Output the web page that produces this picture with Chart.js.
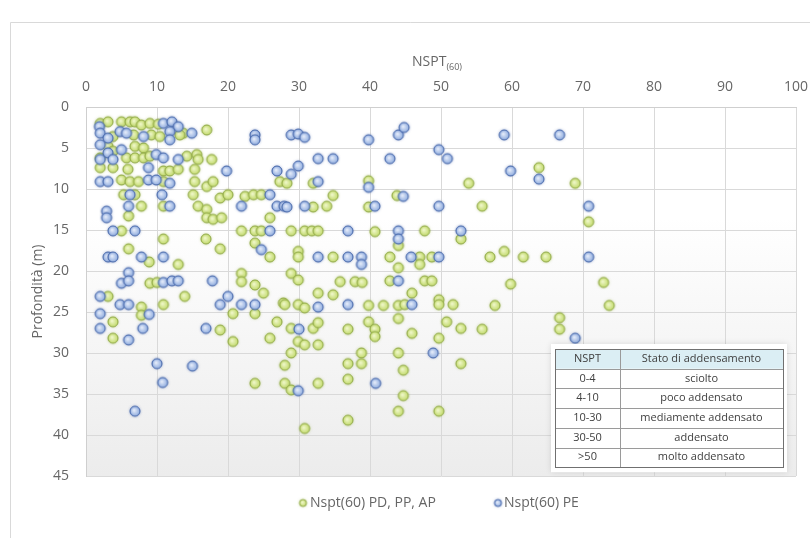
<!DOCTYPE html>
<html>
<head>
<meta charset="utf-8">
<script src="https://cdn.jsdelivr.net/npm/chart.js@4.4.1/dist/chart.umd.min.js"></script>
<style>
  html, body { margin: 0; padding: 0; background: #fff; }
  #wrap { width: 810px; height: 538px; }
</style>
</head>
<body>
<div id="wrap"><canvas id="chart" width="810" height="538"></canvas></div>
<script>
// --- DATA ---
// Nspt(60) PD, PP, AP
const pdX = [2, 3.1, 5, 6.2, 6.9, 7.8, 9, 10.2, 13.7, 17,
  3.8, 6.7, 9.2, 10.4, 13.2, 3.1, 3.8, 6.9, 8.1, 2,
  5.7, 6.9, 8.1, 9, 14.2, 15.6, 15.8, 17.7, 2, 3.8,
  5.9, 10.9, 11.8, 13, 15.3, 27.3, 5, 6.2, 7.4, 10.9,
  15.3, 17, 17.9, 5.3, 6.9, 7.8, 10.9, 15.1, 15.8, 17,
  18.9, 20, 22.4, 23.6, 24.7, 6, 17, 17.9, 19.1, 25.9,
  28.3, 32, 39.8, 53.9, 34.8, 43.8, 32, 33.9, 39.8, 55.8,
  63.8, 68.9, 70.8,
  5, 10.9, 16.9, 18.9, 6, 8.9, 13, 9, 10, 21.9,
  21.9, 23.8, 25, 3.1, 7.8, 7.8, 10.9, 13.9, 20.7, 23.8,
  21.9, 23.8, 24.7, 25.9, 23.8, 27.8, 26.9, 3.8, 3.8, 18.9,
  20.7, 25.9,
  28.9, 30.8, 31.8, 32.7, 40.7, 44, 47.7, 52.8, 29.9, 29.9,
  34.8, 42.8, 47, 47, 48.7, 56.9, 44, 28.9, 29.9, 35.8,
  37.9, 38.9, 42.8, 47.7, 48.7, 32.7, 34.8, 45.9, 49.7, 49.7,
  28, 29.9, 30.8, 39.8, 41.9, 44, 44.9, 51.7, 57.6, 28.9,
  32, 32.7, 36.9, 39.8, 40.7, 40.7, 44, 45.9, 49.7, 50.8,
  52.8, 55.8, 29.9, 30.8, 32.7, 38.8, 44,
  58.9, 61.6, 64.8, 59.8, 72.9, 73.7, 66.7, 66.7,
  23.8, 28.9, 28, 28, 28.9, 32.7, 30.8, 36.9, 38.8, 36.9,
  36.9, 44.7, 44.7, 44, 52.8, 49.7];
const pdY = [2, 1.8, 1.8, 1.8, 1.8, 2.2, 2, 2.1, 3.2, 2.8,
  3.6, 3.4, 3.4, 3.6, 3.4, 4.8, 5.4, 4.8, 5, 6.2,
  6.2, 6.2, 6.2, 6, 6, 5.8, 6.4, 6.4, 7.4, 7.4,
  7.6, 7.8, 7.8, 7.6, 7.6, 9.1, 8.9, 9.1, 9.1, 9.1,
  9.1, 9.7, 9.1, 10.7, 10.7, 12.1, 12.1, 10.7, 12.1, 12.5,
  11.1, 10.7, 10.9, 10.7, 10.7, 13.3, 13.5, 13.7, 13.5, 13.5,
  9.3, 9.3, 9, 9.3, 10.8, 10.8, 12.2, 12.1, 12.2, 12.1,
  7.4, 9.3, 14,
  15.1, 16.1, 16.1, 17.3, 17.3, 18.9, 19.2, 21.5, 21.4, 20.3,
  21.3, 21.7, 22.7, 23.1, 24.4, 25.4, 24.1, 23.1, 25.2, 25.2,
  15.1, 15.1, 15.1, 18.3, 16.6, 23.9, 26.2, 26.2, 28.2, 27.2,
  28.6, 28.2,
  15.1, 15.1, 15.1, 15.1, 15.2, 16.9, 15.1, 16.1, 17.6, 18.3,
  18.3, 18.3, 18.3, 19.2, 18.3, 18.3, 19.6, 20.3, 21.1, 21.3,
  21.3, 21.4, 21.2, 21.2, 21.2, 22.7, 22.9, 22.7, 23.5, 24.1,
  24.1, 24.1, 24.5, 24.2, 24.2, 24.2, 24.1, 24.1, 24.2, 27,
  27, 26.3, 27.1, 26.2, 27.1, 28, 25.8, 27.6, 28.2, 26.2,
  27, 27.1, 28.6, 29, 29, 30, 30,
  17.6, 18.3, 18.3, 21.6, 21.4, 24.2, 25.7, 27.1,
  33.7, 30, 31.5, 33.7, 34.5, 33.7, 39.2, 31.3, 31.3, 33.2,
  38.2, 32.1, 35.2, 37.1, 31.3, 37.1];

// Nspt(60) PE
const peX = [1.9, 10.9, 12.1, 13, 11.8, 14.9, 23.8, 23.8, 2, 3.1,
  4.8, 5.7, 8.1, 11.8, 2, 3.1, 5, 2, 3.8, 9.9,
  10.9, 13, 8.8, 19.8, 26.9, 2, 3.1, 8.8, 9.9, 11.8,
  6.2, 6, 10.7, 11.8, 25.9, 21.9, 26.9, 27.9, 2.9, 2.9,
  28.9, 29.9, 30.8, 39.8, 44, 44.8, 49.7, 50.9, 32.7, 34.8,
  42.8, 29.9, 28.9, 32.7, 39.8, 44.7, 28.3, 30.8, 40.7, 49.7,
  58.9, 66.7, 59.8, 63.8, 70.8,
  3.8, 6.9, 3.1, 3.8, 7.8, 10.9, 6, 5, 6, 10.9,
  12.1, 13, 17.8, 2, 4.8, 6, 8.9, 18.9, 20, 21.9,
  23.8, 25.9, 24.7, 2, 2, 6, 8, 16.9,
  36.9, 44, 44, 52.8, 32.7, 36.9, 38.8, 38.8, 45.8, 49.7,
  44, 32.7, 36.9, 45.9, 30, 48.9,
  70.8, 68.9, 10, 15, 10.8, 6.9, 29.9, 40.8];
const peY = [2.4, 2, 1.8, 2.4, 3, 3.2, 3.4, 4, 3.2, 3.8,
  3, 3.2, 3.6, 4, 4.6, 5.6, 5.2, 6.4, 6.4, 5.8,
  6.2, 6.4, 7.4, 7.8, 7.8, 9.1, 9.1, 8.9, 8.9, 9.3,
  10.7, 12.1, 10.7, 12.1, 10.7, 12.1, 12.1, 12.1, 12.7, 13.5,
  3.4, 3.3, 3.7, 4, 3.4, 2.5, 5.2, 6.3, 6.3, 6.3,
  6.3, 7.2, 8.2, 9.1, 9.8, 10.9, 12.2, 12.1, 12.1, 12.1,
  3.4, 3.4, 7.8, 8.8, 12.1,
  15.1, 15.1, 18.3, 18.3, 18.3, 18.3, 20.2, 21.5, 21.2, 21.4,
  21.2, 21.2, 21.2, 23.1, 24.1, 24.1, 25.3, 24.1, 23.1, 24.1,
  24.1, 15.1, 17.4, 25.2, 27, 28.4, 27, 27,
  15.1, 15.1, 16.1, 15.1, 18.3, 18.3, 18.3, 19.2, 18.3, 18.3,
  21.2, 24.4, 24.1, 24.1, 27.1, 30,
  18.3, 28.2, 31.3, 31.6, 33.6, 37.1, 34.6, 33.7];

const seriesNames = ['Nspt(60) PD, PP, AP', 'Nspt(60) PE'];
const tableHead = ['NSPT', 'Stato di addensamento'];
const tableRange = ['0-4', '4-10', '10-30', '30-50', '>50'];
const tableState = ['sciolto', 'poco addensato', 'mediamente addensato', 'addensato', 'molto addensato'];

const FONT = "'Open Sans', 'DejaVu Sans', sans-serif";
const TXT = '#666666';

// marker "a bolla" tipo Excel
function makeMarker(r, cIn, cOut, stroke, glow) {
  const s = Math.ceil(r * 2 + 6);
  const c = document.createElement('canvas');
  c.width = s; c.height = s;
  const g = c.getContext('2d');
  const m = s / 2;
  g.shadowColor = glow;
  g.shadowBlur = 3;
  const grad = g.createRadialGradient(m - r * 0.2, m - r * 0.2, 0.5, m, m, r);
  grad.addColorStop(0, cIn);
  grad.addColorStop(1, cOut);
  g.beginPath();
  g.arc(m, m, r, 0, Math.PI * 2);
  g.fillStyle = grad;
  g.fill();
  g.shadowBlur = 0;
  g.lineWidth = 1;
  g.strokeStyle = stroke;
  g.stroke();
  return c;
}
const greenDot = makeMarker(5, '#eef6c6', '#c2da6c', '#8fa748', 'rgba(150,180,60,0.7)');
const blueDot = makeMarker(5, '#e2eaf9', '#8eabde', '#4465a8', 'rgba(70,100,170,0.7)');
const greenLeg = makeMarker(3.5, '#eef6c6', '#c2da6c', '#8fa748', 'rgba(150,180,60,0.6)');
const blueLeg = makeMarker(3.5, '#e2eaf9', '#8eabde', '#4465a8', 'rgba(70,100,170,0.6)');

const toPts = (xs, ys) => xs.map((x, i) => ({ x: x, y: ys[i] }));

const plotBg = {
  id: 'plotBg',
  beforeDraw(chart) {
    const { ctx, chartArea: a, width, height } = chart;
    ctx.save();
    ctx.fillStyle = '#fff';
    ctx.fillRect(0, 0, width, height);
    const g = ctx.createLinearGradient(0, a.top, 0, a.bottom);
    g.addColorStop(0, '#ffffff');
    g.addColorStop(0.3, '#ffffff');
    g.addColorStop(1, '#ececec');
    ctx.fillStyle = g;
    ctx.fillRect(a.left, a.top, a.right - a.left, a.bottom - a.top);
    ctx.restore();
  }
};

const extras = {
  id: 'extras',
  afterDraw(chart) {
    const { ctx, chartArea: a } = chart;
    ctx.save();

    // bordo area grafico
    ctx.strokeStyle = '#d9d9d9';
    ctx.lineWidth = 1;
    ctx.beginPath();
    ctx.moveTo(10.5, 600); ctx.lineTo(10.5, 22.5); ctx.lineTo(820, 22.5);
    ctx.stroke();

    // titolo asse x con pedice
    ctx.fillStyle = TXT;
    ctx.textBaseline = 'middle';
    ctx.font = '14px ' + FONT;
    const wMain = ctx.measureText('NSPT').width;
    ctx.font = '9px ' + FONT;
    const wSub = ctx.measureText('(60)').width;
    const cx = (a.left + a.right) / 2 - 4;
    const x0 = cx - (wMain + wSub) / 2;
    ctx.textAlign = 'left';
    ctx.font = '14px ' + FONT;
    ctx.fillText('NSPT', x0, 62);
    ctx.font = '9px ' + FONT;
    ctx.fillText('(60)', x0 + wMain, 67);

    // titolo asse y
    ctx.save();
    ctx.translate(38, (a.top + a.bottom) / 2);
    ctx.rotate(-Math.PI / 2);
    ctx.textAlign = 'center';
    ctx.font = '14px ' + FONT;
    ctx.fillText('Profondità (m)', 0, 0);
    ctx.restore();

    // legenda
    ctx.font = '14px ' + FONT;
    ctx.textAlign = 'left';
    ctx.drawImage(greenLeg, 303 - greenLeg.width / 2, 503 - greenLeg.height / 2);
    ctx.fillText(seriesNames[0], 310, 503);
    ctx.drawImage(blueLeg, 498 - blueLeg.width / 2, 503 - blueLeg.height / 2);
    ctx.fillText(seriesNames[1], 504, 503);

    // tabella stato di addensamento
    const tl = 555, tt = 349, c1 = 65, c2 = 228, rh = 19.7;
    const nRows = tableRange.length + 1;
    ctx.save();
    ctx.shadowColor = 'rgba(0,0,0,0.12)';
    ctx.shadowBlur = 6;
    ctx.fillStyle = '#ffffff';
    ctx.fillRect(tl - 4, tt - 5, c2 + 8, rh * nRows + 10);
    ctx.restore();
    ctx.fillStyle = '#ffffff';
    ctx.fillRect(tl, tt, c2, rh * nRows);
    ctx.fillStyle = '#dbeef4';
    ctx.fillRect(tl, tt, c2, rh);
    ctx.strokeStyle = '#9a9a9a';
    ctx.lineWidth = 1;
    for (let i = 1; i < nRows; i++) {
      const y = Math.round(tt + rh * i) + 0.5;
      ctx.beginPath(); ctx.moveTo(tl, y); ctx.lineTo(tl + c2, y); ctx.stroke();
    }
    ctx.beginPath(); ctx.moveTo(tl + c1 + 0.5, tt); ctx.lineTo(tl + c1 + 0.5, tt + rh * nRows); ctx.stroke();
    ctx.strokeStyle = '#707070';
    ctx.strokeRect(tl + 0.5, tt + 0.5, c2, Math.round(rh * nRows));
    ctx.fillStyle = '#404040';
    ctx.font = '11px ' + FONT;
    ctx.textAlign = 'center';
    ctx.fillText(tableHead[0], tl + c1 / 2, tt + rh / 2);
    ctx.fillText(tableHead[1], tl + c1 + (c2 - c1) / 2, tt + rh / 2);
    tableRange.forEach((r, i) => {
      const y = tt + rh * (i + 1) + rh / 2;
      ctx.fillText(r, tl + c1 / 2, y);
      ctx.fillText(tableState[i], tl + c1 + (c2 - c1) / 2, y);
    });

    ctx.restore();
  }
};

new Chart(document.getElementById('chart'), {
  type: 'scatter',
  data: {
    datasets: [
      { label: seriesNames[0], data: toPts(pdX, pdY), pointStyle: greenDot, order: 1 },
      { label: seriesNames[1], data: toPts(peX, peY), pointStyle: blueDot, order: 0 }
    ]
  },
  options: {
    responsive: false,
    animation: false,
    devicePixelRatio: 1,
    layout: { padding: { left: 0, top: 0, right: 14, bottom: 62 } },
    plugins: { legend: { display: false }, tooltip: { enabled: false } },
    scales: {
      x: {
        type: 'linear', position: 'top', min: 0, max: 100,
        ticks: { stepSize: 10, padding: 12, color: TXT, font: { family: FONT, size: 14 } },
        grid: { color: '#d9d9d9', drawTicks: false },
        border: { color: '#cfcfcf' },
        afterFit(s) { s.height = 107; s.paddingLeft = 0; s.paddingRight = 0; }
      },
      y: {
        type: 'linear', reverse: true, min: 0, max: 45,
        ticks: { stepSize: 5, padding: 17, color: TXT, font: { family: FONT, size: 14 } },
        grid: { color: '#d9d9d9', drawTicks: false },
        border: { color: '#cfcfcf' },
        afterFit(s) { s.width = 86; s.paddingTop = 0; s.paddingBottom = 0; }
      }
    }
  },
  plugins: [plotBg, extras]
});
</script>
</body>
</html>
